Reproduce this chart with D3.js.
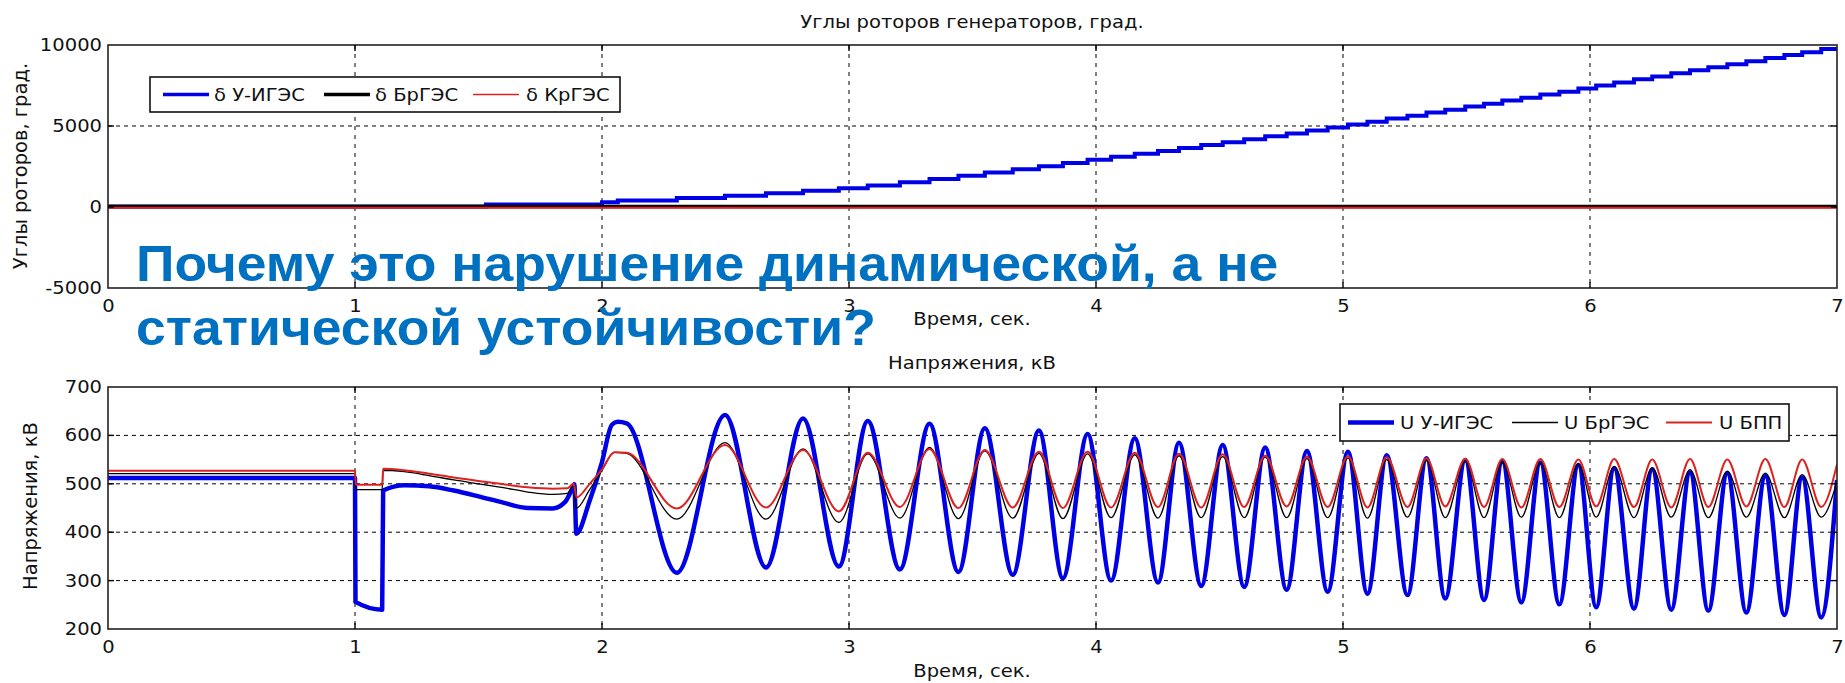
<!DOCTYPE html>
<html lang="ru">
<head>
<meta charset="utf-8">
<script src="https://d3js.org/d3.v7.min.js"></script>
<style>
  body { margin: 0; background: #fff; }
  svg { display: block; font-family: "DejaVu Sans", sans-serif; }
</style>
</head>
<body>
<script>

// ---------- values ----------

var timeTicks = [0, 1, 2, 3, 4, 5, 6, 7];
var angleTicks = [-5000, 0, 5000, 10000];
var voltTicks = [200, 300, 400, 500, 600, 700];

var angleNames = ["δ У-ИГЭС", "δ БрГЭС", "δ КрГЭС"];
var voltNames = ["U У-ИГЭС", "U БрГЭС", "U БПП"];

// rotor angles, [time s, deg] (blue one slips in steps)
var angleUIGES = [[0, 30], [1.53, 150], [2.0, 300], [2.064, 400], [2.303, 550], [2.498, 700],
  [2.664, 850], [2.814, 1000], [2.959, 1150], [3.076, 1330], [3.206, 1530], [3.326, 1730],
  [3.443, 1930], [3.55, 2130], [3.663, 2330], [3.769, 2520], [3.866, 2720], [3.966, 2910],
  [4.061, 3100], [4.157, 3280], [4.251, 3460], [4.336, 3640], [4.426, 3820], [4.513, 4000],
  [4.6, 4180], [4.685, 4360], [4.772, 4540], [4.854, 4720], [4.938, 4900], [5.02, 5090],
  [5.099, 5270], [5.177, 5460], [5.261, 5640], [5.338, 5830], [5.414, 6010], [5.495, 6200],
  [5.571, 6380], [5.645, 6570], [5.722, 6750], [5.799, 6940], [5.876, 7120], [5.953, 7310],
  [6.025, 7500], [6.098, 7690], [6.178, 7880], [6.252, 8060], [6.329, 8250], [6.405, 8440],
  [6.479, 8630], [6.556, 8810], [6.633, 9000], [6.71, 9190], [6.787, 9380], [6.859, 9560],
  [6.936, 9750], [7.0, 9870]];
var angleBrGES = [[0, 30], [7, 30]];
var angleKrGES = [[0, -50], [7, -50]];

// voltages, [time s, kV]
var voltUIGES = [[0, 512], [1.0, 512], [1.002, 256], [1.11, 240], [1.114, 486], [1.2, 497],
  [1.3, 495], [1.4, 486], [1.5, 474], [1.6, 461], [1.7, 450], [1.8, 449], [1.85, 462],
  [1.875, 485], [1.888, 499], [1.896, 397], [1.95, 465], [2.0, 545], [2.04, 622], [2.064, 628],
  [2.1, 625], [2.303, 316], [2.498, 642], [2.664, 327], [2.814, 635], [2.959, 329], [3.076, 630],
  [3.206, 323], [3.326, 624], [3.443, 318], [3.55, 615], [3.663, 312], [3.769, 610], [3.866, 305],
  [3.966, 603], [4.061, 300], [4.157, 594], [4.251, 296], [4.336, 585], [4.426, 289], [4.513, 580],
  [4.6, 287], [4.685, 575], [4.772, 281], [4.854, 568], [4.938, 277], [5.02, 566], [5.099, 273],
  [5.177, 559], [5.261, 270], [5.338, 553], [5.414, 263], [5.495, 549], [5.571, 260], [5.645, 546],
  [5.722, 255], [5.799, 544], [5.876, 251], [5.953, 539], [6.025, 245], [6.098, 532], [6.178, 242],
  [6.252, 530], [6.329, 240], [6.405, 523], [6.479, 238], [6.556, 522], [6.633, 234], [6.71, 516],
  [6.787, 229], [6.859, 513], [6.936, 224], [7.0, 508]];

var voltBrGES = [[0, 521], [1.0, 521], [1.003, 488], [1.11, 488], [1.114, 528], [1.2, 525],
  [1.3, 517], [1.4, 508], [1.5, 500], [1.6, 492], [1.7, 483], [1.8, 478], [1.86, 480],
  [1.885, 497], [1.897, 450], [1.95, 488], [2.0, 528], [2.05, 565], [2.1, 563], [2.303, 427],
  [2.498, 585], [2.664, 427], [2.814, 572], [2.959, 420], [3.076, 562], [3.206, 429], [3.326, 575],
  [3.443, 428], [3.55, 568], [3.663, 429], [3.769, 563], [3.866, 428], [3.966, 562], [4.061, 430],
  [4.157, 560], [4.251, 429], [4.336, 558], [4.426, 430], [4.513, 556], [4.6, 430], [4.685, 555],
  [4.772, 430], [4.854, 552], [4.938, 430], [5.02, 553], [5.099, 429], [5.177, 550], [5.261, 431],
  [5.338, 548], [5.414, 430], [5.495, 547], [5.571, 430], [5.645, 545], [5.722, 431], [5.799, 544],
  [5.876, 430], [5.953, 541], [6.025, 431], [6.098, 536], [6.178, 430], [6.252, 533], [6.329, 431],
  [6.405, 529], [6.479, 430], [6.556, 526], [6.633, 431], [6.71, 522], [6.787, 430], [6.859, 519],
  [6.936, 431], [7.0, 505]];

var voltBPP = [[0, 527], [1.0, 527], [1.003, 498], [1.11, 498], [1.114, 531], [1.2, 528],
  [1.3, 521], [1.4, 513], [1.5, 506], [1.6, 499], [1.7, 493], [1.8, 490], [1.86, 491],
  [1.885, 500], [1.897, 472], [1.95, 500], [2.0, 530], [2.05, 565], [2.1, 564], [2.303, 449],
  [2.498, 580], [2.664, 451], [2.814, 570], [2.959, 443], [3.076, 564], [3.206, 452], [3.326, 572],
  [3.443, 450], [3.55, 570], [3.663, 451], [3.769, 566], [3.866, 450], [3.966, 566], [4.061, 451],
  [4.157, 564], [4.251, 452], [4.336, 562], [4.426, 451], [4.513, 561], [4.6, 452], [4.685, 558],
  [4.772, 453], [4.854, 556], [4.938, 452], [5.02, 557], [5.099, 451], [5.177, 555], [5.261, 452],
  [5.338, 553], [5.414, 453], [5.495, 552], [5.571, 452], [5.645, 551], [5.722, 451], [5.799, 551],
  [5.876, 452], [5.953, 550], [6.025, 453], [6.098, 551], [6.178, 452], [6.252, 550], [6.329, 451],
  [6.405, 551], [6.479, 452], [6.556, 550], [6.633, 453], [6.71, 551], [6.787, 452], [6.859, 550],
  [6.936, 452], [7.0, 540]];

// ---------- drawing ----------

var W = 1845, H = 683;
var blue = "#0000e6", red = "#dd2222", black = "#000";

var svg = d3.select("body").append("svg")
    .attr("width", W)
    .attr("height", H);

svg.append("rect").attr("width", W).attr("height", H).attr("fill", "#fff");

var x = d3.scaleLinear().domain([0, 7]).range([108, 1837]);
var yA = d3.scaleLinear().domain([-5000, 10000]).range([288, 45]);
var yU = d3.scaleLinear().domain([200, 700]).range([629, 387]);

// the picture is a bit wider than tall, so text is widened
function stretch(sel, k) {
  k = k || 1.15;
  sel.each(function() {
    var t = d3.select(this);
    var tx = +t.attr("x") || 0, ty = +t.attr("y") || 0;
    t.attr("x", 0).attr("y", 0)
      .attr("transform", "translate(" + tx + "," + ty + ") scale(" + k + ",1)");
  });
}

var defs = svg.append("defs");

function panel(y, yTicks, id) {
  var x0 = x.range()[0], x1 = x.range()[1], yb = y.range()[0], yt = y.range()[1];

  defs.append("clipPath").attr("id", id)
    .append("rect").attr("x", x0).attr("y", yt).attr("width", x1 - x0).attr("height", yb - yt);

  var g = svg.append("g");

  // dashed grid
  g.selectAll(".gx").data(timeTicks.slice(1, -1)).enter().append("line")
      .attr("x1", function(d) { return x(d); })
      .attr("x2", function(d) { return x(d); })
      .attr("y1", yt).attr("y2", yb)
      .attr("stroke", "#000").attr("stroke-width", 1).attr("stroke-dasharray", "4,5");
  g.selectAll(".gy").data(yTicks.slice(1, -1)).enter().append("line")
      .attr("x1", x0).attr("x2", x1)
      .attr("y1", function(d) { return y(d); })
      .attr("y2", function(d) { return y(d); })
      .attr("stroke", "#000").attr("stroke-width", 1).attr("stroke-dasharray", "4,4");

  var lines = svg.append("g").attr("clip-path", "url(#" + id + ")");
  return lines;
}

function frame(y, yTicks) {
  var x0 = x.range()[0], x1 = x.range()[1], yb = y.range()[0], yt = y.range()[1];
  var g = svg.append("g");

  g.append("rect").attr("x", x0).attr("y", yt).attr("width", x1 - x0).attr("height", yb - yt)
      .attr("fill", "none").attr("stroke", "#222").attr("stroke-width", 1.6);

  // short solid inner ticks
  timeTicks.slice(1, -1).forEach(function(d) {
    g.append("line").attr("x1", x(d)).attr("x2", x(d)).attr("y1", yb).attr("y2", yb - 6)
      .attr("stroke", "#000").attr("stroke-width", 1.4);
    g.append("line").attr("x1", x(d)).attr("x2", x(d)).attr("y1", yt).attr("y2", yt + 6)
      .attr("stroke", "#000").attr("stroke-width", 1.4);
  });
  yTicks.slice(1, -1).forEach(function(d) {
    g.append("line").attr("x1", x0).attr("x2", x0 + 6).attr("y1", y(d)).attr("y2", y(d))
      .attr("stroke", "#000").attr("stroke-width", 1.4);
    g.append("line").attr("x1", x1).attr("x2", x1 - 6).attr("y1", y(d)).attr("y2", y(d))
      .attr("stroke", "#000").attr("stroke-width", 1.4);
  });

  var ax = svg.append("g").attr("transform", "translate(0," + yb + ")")
      .call(d3.axisBottom(x).tickValues(timeTicks).tickSize(0).tickPadding(12)
        .tickFormat(function(d) { return String(d); }));
  var ay = svg.append("g").attr("transform", "translate(" + x0 + ",0)")
      .call(d3.axisLeft(y).tickValues(yTicks).tickSize(0).tickPadding(6)
        .tickFormat(function(d) { return String(d); }));
  [ax, ay].forEach(function(a) {
    a.select(".domain").remove();
    a.selectAll("text").attr("font-size", 17).attr("font-family", "DejaVu Sans").attr("fill", "#111");
    stretch(a.selectAll("text"));
  });
}

function label(txt, cx, cy) {
  var t = svg.append("text")
      .attr("x", cx).attr("y", cy)
      .attr("text-anchor", "middle")
      .attr("font-size", 17)
      .attr("fill", "#111")
      .text(txt);
  stretch(t);
}

function ylabel(txt, cx, cy) {
  svg.append("text")
      .attr("transform", "translate(" + cx + "," + cy + ") rotate(-90)")
      .attr("text-anchor", "middle")
      .attr("dy", "0.35em")
      .attr("font-size", 19.5)
      .attr("fill", "#111")
      .text(txt);
}

function legend(names, colors, widths, box, lineX, textX) {
  var g = svg.append("g");
  var cy = box[1] + box[3] / 2;
  g.append("rect").attr("x", box[0]).attr("y", box[1]).attr("width", box[2]).attr("height", box[3])
      .attr("fill", "#fff").attr("stroke", "#111").attr("stroke-width", 1.6);
  names.forEach(function(n, i) {
    g.append("line").attr("x1", lineX[i]).attr("x2", lineX[i] + 46).attr("y1", cy).attr("y2", cy)
        .attr("stroke", colors[i]).attr("stroke-width", widths[i]);
    var t = g.append("text").attr("x", textX[i]).attr("y", cy + 6)
        .attr("font-size", 17).attr("fill", "#111").text(n);
    stretch(t);
  });
}

// ---- top panel: rotor angles
var topLines = panel(yA, angleTicks, "clipA");
var lineA = d3.line().x(function(d) { return x(d[0]); }).y(function(d) { return yA(d[1]); });

topLines.append("path").datum(angleUIGES)
    .attr("d", lineA.curve(d3.curveStepAfter)).attr("fill", "none")
    .attr("stroke", blue).attr("stroke-width", 4);
topLines.append("path").datum(angleBrGES)
    .attr("d", lineA.curve(d3.curveLinear)).attr("fill", "none")
    .attr("stroke", black).attr("stroke-width", 3.5);
topLines.append("path").datum(angleKrGES)
    .attr("d", lineA.curve(d3.curveLinear)).attr("fill", "none")
    .attr("stroke", red).attr("stroke-width", 2);

frame(yA, angleTicks);
label("Углы роторов генераторов, град.", 972, 28);
label("Время, сек.", 972, 325);
ylabel("Углы роторов, град.", 20, 166);
legend(angleNames, [blue, black, red], [3.5, 3.5, 1.5], [150, 77, 470, 35],
       [163, 324, 473], [214, 375, 526]);

// ---- bottom panel: voltages
var botLines = panel(yU, voltTicks, "clipU");
var lineU = d3.line().x(function(d) { return x(d[0]); }).y(function(d) { return yU(d[1]); })
    .curve(d3.curveMonotoneX);

botLines.append("path").datum(voltUIGES)
    .attr("d", lineU).attr("fill", "none")
    .attr("stroke", blue).attr("stroke-width", 4.5).attr("stroke-linejoin", "round");
botLines.append("path").datum(voltBrGES)
    .attr("d", lineU).attr("fill", "none")
    .attr("stroke", black).attr("stroke-width", 1.3);
botLines.append("path").datum(voltBPP)
    .attr("d", lineU).attr("fill", "none")
    .attr("stroke", red).attr("stroke-width", 2);

frame(yU, voltTicks);
label("Напряжения, кВ", 972, 369);
label("Время, сек.", 972, 677);
ylabel("Напряжения, кВ", 30, 506);
legend(voltNames, [blue, black, red], [4.5, 1.3, 2], [1340, 404, 449, 37],
       [1348, 1512, 1666], [1400, 1564, 1719]);

// ---- slide question over the chart
var q = svg.append("g")
    .attr("font-family", "'Liberation Sans', Arial, sans-serif")
    .attr("font-weight", "bold")
    .attr("font-size", 50)
    .attr("fill", "#0070c0");
var q1 = q.append("text").attr("x", 136).attr("y", 281).text("Почему это нарушение динамической, а не");
var q2 = q.append("text").attr("x", 136).attr("y", 345).text("статической устойчивости?");
stretch(q1, 1.07);
stretch(q2, 1.07);

</script>
</body>
</html>
